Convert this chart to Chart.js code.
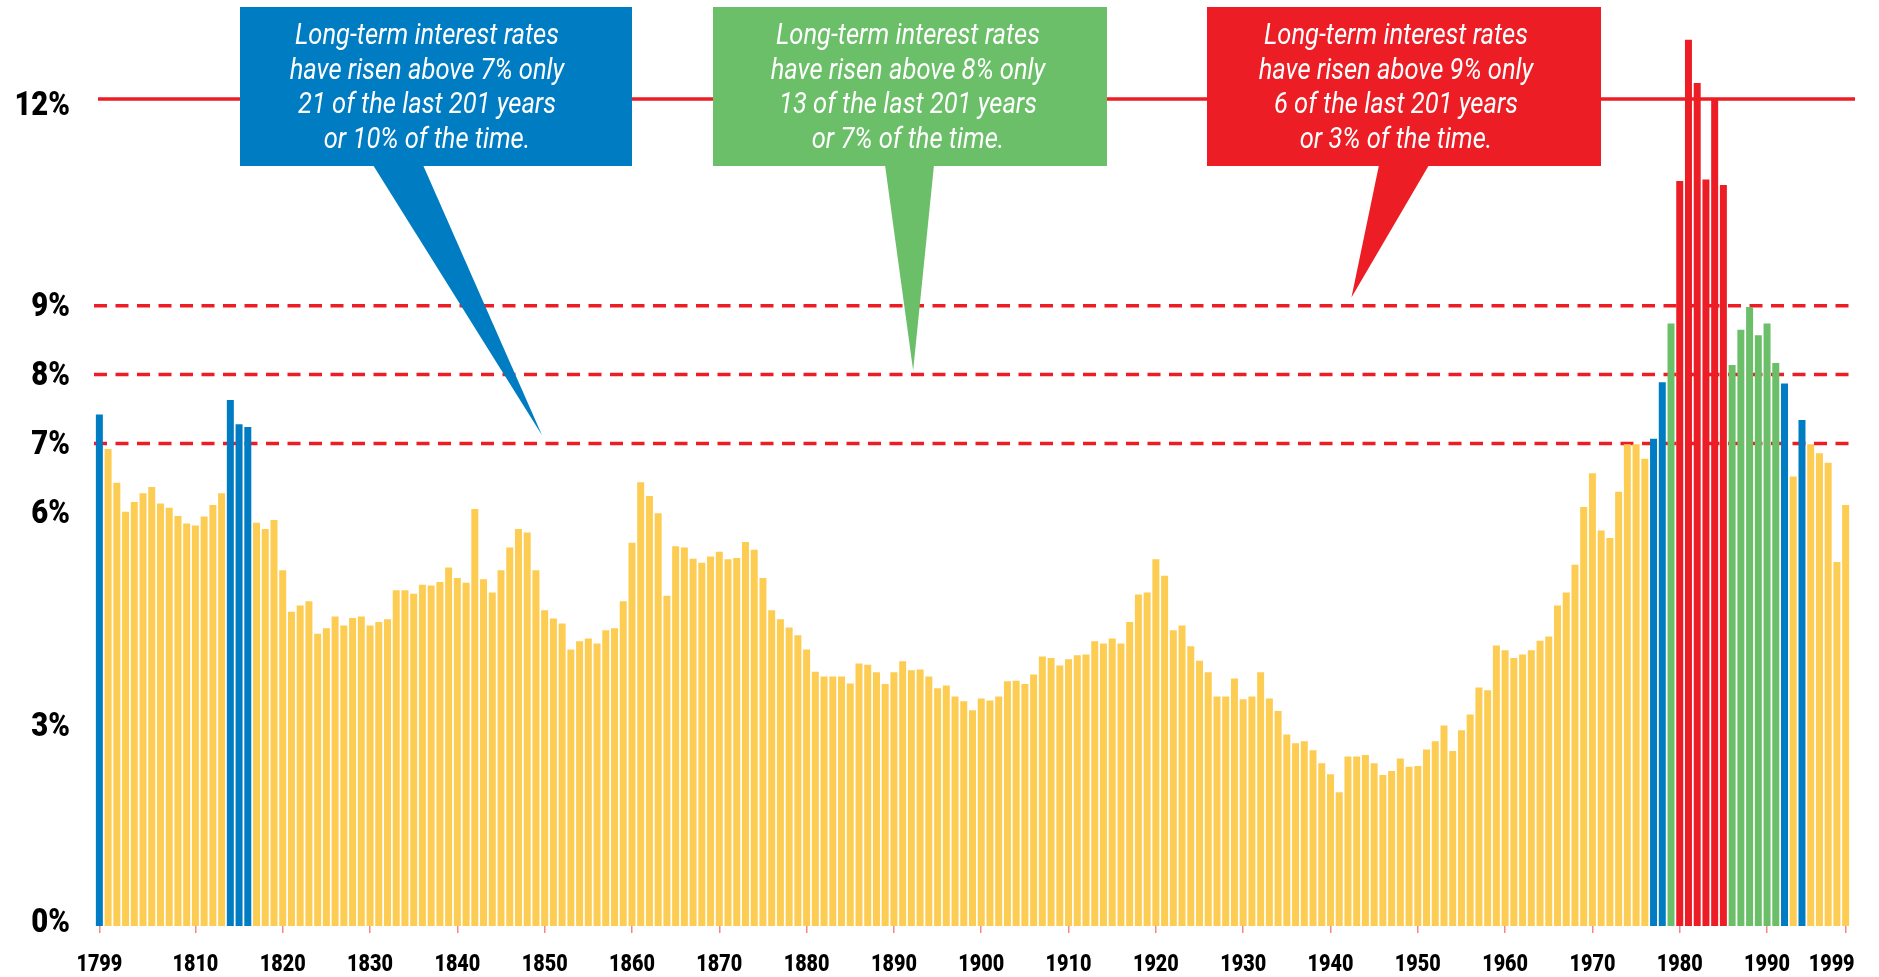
<!doctype html>
<html lang="en">
<head>
  <meta charset="utf-8">
  <title>Long-term interest rates 1799-1999</title>
  <script src="https://cdn.jsdelivr.net/npm/chart.js@4.4.1/dist/chart.umd.min.js"></script>
  <style>
    html, body { margin: 0; padding: 0; background: #ffffff; }
    .grafico { width: 1879px; height: 977px; }
  </style>
</head>
<body>
<div class="grafico"><canvas id="myChart"></canvas></div>

<script>
// categories: one bar per year, 1799 to 1999
var firstYear = 1799;
var lastYear = 1999;
var years = [];
for (var yr = firstYear; yr <= lastYear; yr++) years.push(yr);

// long-term interest rate, %
var rates = [
  7.42, 6.92, 6.43, 6.01, 6.15, 6.28, 6.37, 6.13, 6.07, 5.95,   // 1799-1808
  5.84, 5.81, 5.94, 6.11, 6.28, 7.63, 7.28, 7.24, 5.85, 5.76,   // 1809-1818
  5.89, 5.16, 4.56, 4.65, 4.71, 4.24, 4.32, 4.49, 4.36, 4.47,   // 1819-1828
  4.49, 4.36, 4.41, 4.45, 4.87, 4.87, 4.82, 4.95, 4.94, 4.99,   // 1829-1838
  5.20, 5.05, 4.98, 6.05, 5.03, 4.84, 5.16, 5.49, 5.76, 5.71,   // 1839-1848
  5.16, 4.58, 4.46, 4.39, 4.01, 4.13, 4.17, 4.10, 4.29, 4.32,   // 1849-1858
  4.71, 5.56, 6.44, 6.24, 5.99, 4.79, 5.51, 5.49, 5.33, 5.27,   // 1859-1868
  5.36, 5.43, 5.32, 5.34, 5.57, 5.46, 5.05, 4.58, 4.45, 4.33,   // 1869-1878
  4.22, 4.01, 3.69, 3.62, 3.62, 3.62, 3.52, 3.81, 3.79, 3.68,   // 1879-1888
  3.51, 3.68, 3.84, 3.71, 3.72, 3.62, 3.45, 3.49, 3.33, 3.26,   // 1889-1898
  3.13, 3.30, 3.27, 3.33, 3.55, 3.56, 3.51, 3.65, 3.91, 3.89,   // 1899-1908
  3.78, 3.87, 3.93, 3.94, 4.13, 4.10, 4.17, 4.10, 4.41, 4.81,   // 1909-1918
  4.84, 5.32, 5.08, 4.29, 4.36, 4.06, 3.85, 3.68, 3.33, 3.33,   // 1919-1928
  3.59, 3.29, 3.33, 3.68, 3.30, 3.12, 2.78, 2.65, 2.68, 2.55,   // 1929-1938
  2.36, 2.20, 1.94, 2.46, 2.46, 2.48, 2.36, 2.19, 2.25, 2.43,   // 1939-1948
  2.31, 2.32, 2.56, 2.68, 2.91, 2.54, 2.84, 3.07, 3.46, 3.42,   // 1949-1958
  4.07, 4.00, 3.89, 3.94, 4.00, 4.14, 4.20, 4.65, 4.84, 5.24,   // 1959-1968
  6.08, 6.57, 5.74, 5.63, 6.30, 6.99, 6.99, 6.78, 7.07, 7.89,   // 1969-1978
  8.74, 10.81, 12.86, 12.23, 10.83, 12.00, 10.75, 8.14, 8.65, 8.98, // 1979-1988
  8.57, 8.74, 8.17, 7.87, 6.52, 7.34, 6.99, 6.86, 6.72, 5.28,   // 1989-1998
  6.11                                                          // 1999
];

var yTicks = [0, 3, 6, 7, 8, 9, 12];
var xLabelYears = [1799, 1810, 1820, 1830, 1840, 1850, 1860, 1870, 1880, 1890,
                   1900, 1910, 1920, 1930, 1940, 1950, 1960, 1970, 1980, 1990, 1999];
var dashedLevels = [7, 8, 9];
var solidLevel = 12;

var blueText  = ['Long-term interest rates', 'have risen above 7% only', '21 of the last 201 years', 'or 10% of the time.'];
var greenText = ['Long-term interest rates', 'have risen above 8% only', '13 of the last 201 years', 'or 7% of the time.'];
var redText   = ['Long-term interest rates', 'have risen above 9% only', '6 of the last 201 years', 'or 3% of the time.'];
</script>

<script>
const YELLOW = '#FDCC52';
const BLUE = '#007CC3';
const GREEN = '#6BBF69';
const RED = '#ED1D25';
const FONT = 'Roboto, "Liberation Sans", sans-serif';

// bar colour by band
function barColour(v) {
  if (v > 9) return RED;
  if (v > 8) return GREEN;
  if (v > 7) return BLUE;
  return YELLOW;
}

// draw text squeezed horizontally (the original uses a condensed face)
function squeezed(ctx, text, x, y, sx) {
  ctx.save();
  ctx.translate(x, y);
  ctx.scale(sx, 1);
  ctx.fillText(text, 0, 0);
  ctx.restore();
}

// boxes in pixels, tips anchored to (year, %) through the scales
const callouts = [
  {fill: BLUE,  box: [240, 7, 392, 159],  base: [373, 423],  tip: [1849.7, 7.12], dx: -9, lines: blueText},
  {fill: GREEN, box: [713, 7, 394, 159],  base: [885, 934],  tip: [1892.2, 8.06], dx: -2, lines: greenText},
  {fill: RED,   box: [1207, 7, 394, 159], base: [1379, 1429], tip: [1942.4, 9.12], dx: -8, lines: redText},
];

// small nudges of some y labels, as set in the original
const yLabelNudge = {0: -5, 3: 6, 12: 6};

const refLines = {
  id: 'refLines',
  beforeDatasetsDraw(chart) {
    const {ctx, chartArea, scales: {y}} = chart;
    ctx.save();
    ctx.strokeStyle = RED;
    ctx.lineWidth = 3.5;
    ctx.setLineDash([13, 8.5]);
    dashedLevels.forEach(v => {
      const py = y.getPixelForValue(v);
      ctx.beginPath();
      ctx.moveTo(chartArea.left - 1, py);
      ctx.lineTo(chartArea.right + 5, py);
      ctx.stroke();
    });
    ctx.setLineDash([]);
    const py = y.getPixelForValue(solidLevel);
    ctx.beginPath();
    ctx.moveTo(chartArea.left + 3, py);
    ctx.lineTo(chartArea.right + 5, py);
    ctx.stroke();
    ctx.restore();
  }
};

// tick labels, placed through the scales
const axisLabels = {
  id: 'axisLabels',
  afterDraw(chart) {
    const {ctx, scales: {x, y}} = chart;
    ctx.save();
    ctx.fillStyle = '#000000';
    ctx.textBaseline = 'middle';

    ctx.font = '900 34px ' + FONT;
    ctx.textAlign = 'right';
    yTicks.forEach(v => {
      squeezed(ctx, v + '%', 70, y.getPixelForValue(v) + 2 + (yLabelNudge[v] || 0), 0.86);
    });

    ctx.font = '900 23px ' + FONT;
    ctx.textAlign = 'center';
    xLabelYears.forEach(yr => {
      let px = x.getPixelForValue(yr - firstYear);
      if (yr === lastYear) px -= 14;   // last label pulled in, as in the original
      squeezed(ctx, String(yr), px, 965, 0.86);
    });
    ctx.restore();
  }
};

const calloutBoxes = {
  id: 'calloutBoxes',
  afterDatasetsDraw(chart) {
    const {ctx, scales: {x, y}} = chart;
    ctx.save();
    callouts.forEach(c => {
      const [bx, by, bw, bh] = c.box;
      const tx = x.getPixelForValue(c.tip[0] - firstYear);
      const ty = y.getPixelForValue(c.tip[1]);
      ctx.fillStyle = c.fill;
      ctx.fillRect(bx, by, bw, bh);
      ctx.beginPath();
      ctx.moveTo(c.base[0], by + bh - 1);
      ctx.lineTo(c.base[1], by + bh - 1);
      ctx.lineTo(tx, ty);
      ctx.closePath();
      ctx.fill();

      ctx.fillStyle = '#ffffff';
      ctx.font = 'italic 29px ' + FONT;
      ctx.textAlign = 'center';
      ctx.textBaseline = 'middle';
      const sx = Math.min(1, 264 / ctx.measureText(c.lines[0]).width);
      const cx = bx + bw / 2 + c.dx;
      c.lines.forEach((t, i) => squeezed(ctx, t, cx, by + 30 + i * 34.5, sx));
    });
    ctx.restore();
  }
};

var ctx = document.getElementById('myChart').getContext('2d');
var myChart = new Chart(ctx, {
  type: 'bar',
  data: {
    labels: years.map(String),
    datasets: [{
      label: 'Long-term interest rate',
      data: rates,
      backgroundColor: rates.map(barColour),
      borderWidth: 0,
      barPercentage: 0.8,
      categoryPercentage: 1.0,
    }]
  },
  plugins: [refLines, calloutBoxes, axisLabels],
  options: {
    responsive: true,
    maintainAspectRatio: false,
    animation: false,
    layout: {padding: {left: 0, right: 29, top: 30, bottom: 0}},
    scales: {
      x: {
        afterFit: (scale) => {
          scale.height = 51;
          scale.paddingLeft = 0;
          scale.paddingRight = 0;
        },
        border: {display: false},
        grid: {
          display: true,
          drawOnChartArea: false,
          drawTicks: true,
          offset: false,
          tickLength: 7,
          lineWidth: 1.5,
          color: (c) => xLabelYears.includes(years[c.index]) ? '#F4858B' : 'rgba(0,0,0,0)',
        },
        ticks: {display: false, autoSkip: false}
      },
      y: {
        min: 0,
        max: 13,
        afterFit: (scale) => {
          scale.width = 95;
          scale.paddingTop = 0;
          scale.paddingBottom = 0;
        },
        afterBuildTicks: (scale) => { scale.ticks = yTicks.map(v => ({value: v})); },
        border: {display: false},
        grid: {display: false, drawTicks: false},
        ticks: {display: false}
      }
    },
    plugins: {
      legend: {display: false},
      tooltip: {enabled: false},
      title: {display: false},
    }
  },
});
</script>

</body>
</html>
